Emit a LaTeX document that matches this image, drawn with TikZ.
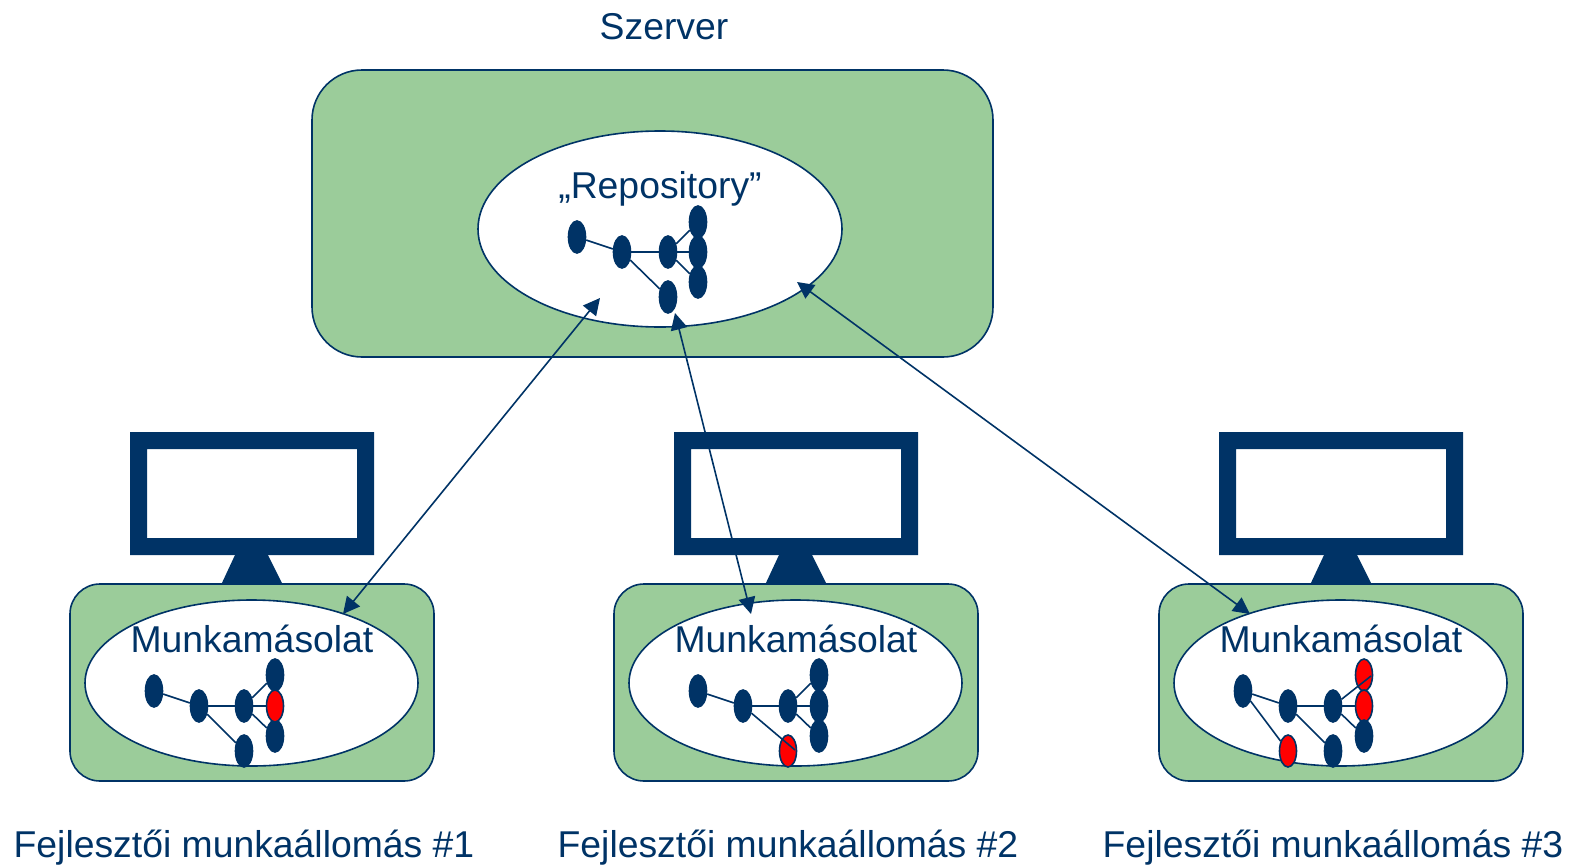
\documentclass[tikz,border=0pt]{standalone}
\usepackage{fontspec}
\setmainfont{Liberation Sans}
\usetikzlibrary{shapes.geometric,arrows.meta}

\tikzset{
  every node/.style={color={rgb, 255:red, 0; green, 51; blue, 102 }},
  label/.style={anchor=base,inner sep=0pt,font=\fontsize{28}{32}\selectfont},
  serverbox/.style={draw={rgb, 255:red, 0; green, 51; blue, 102 },fill={rgb, 255:red, 155; green, 204; blue, 154 },line width=1.2pt,rounded corners=37.5pt,minimum width=510.75pt,minimum height=215.25pt},
  workbox/.style={draw={rgb, 255:red, 0; green, 51; blue, 102 },fill={rgb, 255:red, 155; green, 204; blue, 154 },line width=1.2pt,rounded corners=22.5pt,minimum width=273pt,minimum height=147.75pt},
  cloud/.style={ellipse,draw={rgb, 255:red, 0; green, 51; blue, 102 },fill=white,line width=1.2pt,inner sep=0pt},
  commit/.style={ellipse,draw={rgb, 255:red, 0; green, 51; blue, 102 },fill={rgb, 255:red, 0; green, 51; blue, 102 },line width=1.2pt,inner sep=0pt,minimum width=12.75pt,minimum height=24pt},
  changed/.style={commit,fill={rgb, 255:red, 255; green, 0; blue, 0 }},
  edge/.style={color={rgb, 255:red, 0; green, 51; blue, 102 },line width=1.2pt},
  link/.style={color={rgb, 255:red, 0; green, 51; blue, 102 },line width=1.2pt,{Triangle[length=12.5pt,width=12.5pt]}-{Triangle[length=12.5pt,width=12.5pt]}},
  screen/.style={fill={rgb, 255:red, 0; green, 51; blue, 102 },even odd rule}
}

\begin{document}
\begin{tikzpicture}[x=0.75pt,y=0.75pt,yscale=-1,xscale=1]
\useasboundingbox (0,0) rectangle (1578,864);

%Shape: Server
\node [serverbox] (server) at (652.5,213.5) {};
\node [cloud,minimum width=273pt,minimum height=147pt] (repo) at (660,229) {};
% Text Node
\node [label] (szerver) at (664,39) {Szerver};
\node [label] (repotext) at (660,198) {„Repository”};

%Shape: Monitors
\fill [screen] (130,432) rectangle (374,555) (147,449) rectangle (357,538);
\fill [screen] (235,555) -- (268,555) -- (283,585) -- (221,585) -- cycle;
\fill [screen] (674,432) rectangle (918,555) (691,449) rectangle (901,538);
\fill [screen] (779,555) -- (812,555) -- (827,585) -- (765,585) -- cycle;
\fill [screen] (1219,432) rectangle (1463,555) (1236,449) rectangle (1446,538);
\fill [screen] (1324,555) -- (1357,555) -- (1372,585) -- (1310,585) -- cycle;

%Shape: Workstations
\node [workbox] (workA) at (252,682.5) {};
\node [workbox] (workB) at (796,682.5) {};
\node [workbox] (workC) at (1341,682.5) {};
\node [cloud,minimum width=249.75pt,minimum height=124.5pt] (copyA) at (251.5,683) {};
\node [cloud,minimum width=249.75pt,minimum height=124.5pt] (copyB) at (795.5,683) {};
\node [cloud,minimum width=249.75pt,minimum height=124.5pt] (copyC) at (1340.5,683) {};
% Text Node
\node [label] (copytextA) at (252,652) {Munkamásolat};
\node [label] (copytextB) at (796,652) {Munkamásolat};
\node [label] (copytextC) at (1341,652) {Munkamásolat};
\node [label] (nameA) at (244,857) {Fejlesztői munkaállomás \#1};
\node [label] (nameB) at (788,857) {Fejlesztői munkaállomás \#2};
\node [label] (nameC) at (1333,857) {Fejlesztői munkaállomás \#3};

%Tree: repository
\node [commit] (r1) at (577,237) {};
\node [commit] (r2) at (622,252) {};
\node [commit] (r3) at (668,252) {};
\node [commit] (r4) at (668,297) {};
\node [commit] (r5) at (698,222) {};
\node [commit] (r6) at (698,252) {};
\node [commit] (r7) at (698,282) {};
\draw [edge] (r1) -- (r2);
\draw [edge] (r2) -- (r3);
\draw [edge] (r2) -- (r4);
\draw [edge] (r3) -- (r5);
\draw [edge] (r3) -- (r6);
\draw [edge] (r3) -- (r7);

%Tree: workstation 1
\node [commit] (a1) at (154,691) {};
\node [commit] (a2) at (199,706) {};
\node [commit] (a3) at (244,706) {};
\node [commit] (a4) at (244,751) {};
\node [commit] (a5) at (275,675) {};
\node [commit] (a7) at (275,736) {};
\node [changed] (a6) at (275,706) {};
\draw [edge] (a1) -- (a2);
\draw [edge] (a2) -- (a3);
\draw [edge] (a2) -- (a4);
\draw [edge] (a3) -- (a5);
\draw [edge] (a3) -- (a6);
\draw [edge] (a3) -- (a7);

%Tree: workstation 2
\node [commit] (b1) at (698,691) {};
\node [commit] (b2) at (743,706) {};
\node [commit] (b3) at (788,706) {};
\node [changed] (b4) at (788,751) {};
\node [commit] (b5) at (819,675) {};
\node [commit] (b6) at (819,706) {};
\node [commit] (b7) at (819,736) {};
\coordinate (b8) at (795,750);
\draw [edge] (b1) -- (b2);
\draw [edge] (b2) -- (b3);
\draw [edge] (b2) -- (b8);
\draw [edge] (b3) -- (b5);
\draw [edge] (b3) -- (b6);
\draw [edge] (b3) -- (b7);

%Tree: workstation 3
\node [commit] (c1) at (1243,691) {};
\node [commit] (c2) at (1288,706) {};
\node [commit] (c3) at (1333,706) {};
\node [commit] (c4) at (1333,751) {};
\node [changed] (c5) at (1364,675) {};
\node [changed] (c6) at (1364,706) {};
\node [commit] (c7) at (1364,736) {};
\node [changed] (c8) at (1288,751) {};
\coordinate (c9) at (1371,676);
\draw [edge] (c1) -- (c2);
\draw [edge] (c1) -- (c8);
\draw [edge] (c2) -- (c3);
\draw [edge] (c2) -- (c4);
\draw [edge] (c3) -- (c9);
\draw [edge] (c3) -- (c6);
\draw [edge] (c3) -- (c7);

%Straight Lines: arrows
\coordinate (repoA) at (600,298);
\coordinate (repoB) at (675,313);
\coordinate (repoC) at (797,282);
\coordinate (endA) at (343,614);
\coordinate (endB) at (751,614);
\coordinate (endC) at (1250,614);
\draw [link] (repoA) -- (endA);
\draw [link] (repoB) -- (endB);
\draw [link] (repoC) -- (endC);

\end{tikzpicture}
\end{document}
